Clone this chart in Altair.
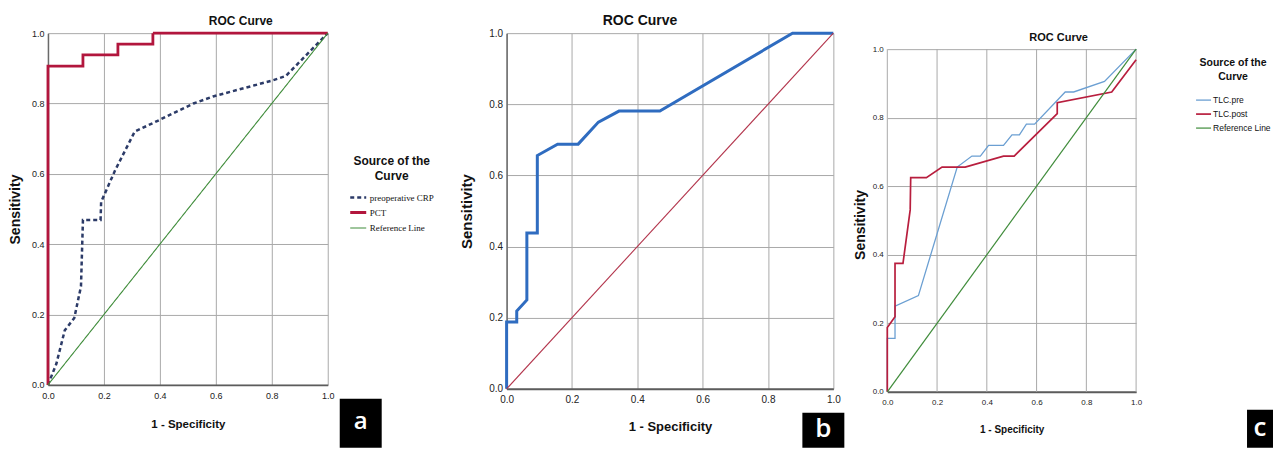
import altair as alt
import pandas as pd

# ---------------- data ----------------
TICKS = [0.0, 0.2, 0.4, 0.6, 0.8, 1.0]

# panel a
A_PCT_X = [0.0, 0.0, 0.125, 0.125, 0.25, 0.25, 0.375, 0.375, 1.0]
A_PCT_Y = [0.0, 0.906, 0.906, 0.938, 0.938, 0.969, 0.969, 1.0, 1.0]
A_CRP_X = [0.0, 0.03, 0.06, 0.094, 0.118, 0.125, 0.188, 0.19, 0.24, 0.31, 0.39, 0.52, 0.59, 0.8, 0.85, 1.0]
A_CRP_Y = [0.0, 0.06, 0.155, 0.19, 0.28, 0.469, 0.469, 0.52, 0.61, 0.72, 0.75, 0.80, 0.82, 0.865, 0.878, 1.0]
REF_X = [0.0, 1.0]
REF_Y = [0.0, 1.0]
A_SERIES = ["preoperative CRP", "PCT", "Reference Line"]

# panel b
B_X = [0.0, 0.0, 0.031, 0.031, 0.062, 0.062, 0.094, 0.094, 0.156, 0.219, 0.281, 0.344, 0.469, 0.875, 1.0]
B_Y = [0.0, 0.188, 0.188, 0.219, 0.25, 0.438, 0.438, 0.656, 0.688, 0.688, 0.75, 0.781, 0.781, 1.0, 1.0]
B_SERIES = ["Curve", "Reference Line"]

# panel c
C_PRE_X = [0.0, 0.0, 0.031, 0.031, 0.125, 0.281, 0.34, 0.374, 0.407, 0.467, 0.501, 0.531, 0.559, 0.592, 0.715, 0.749, 0.873, 1.0]
C_PRE_Y = [0.0, 0.156, 0.156, 0.25, 0.281, 0.656, 0.688, 0.688, 0.719, 0.719, 0.75, 0.75, 0.781, 0.781, 0.875, 0.875, 0.906, 1.0]
C_POST_X = [0.0, 0.0, 0.031, 0.031, 0.063, 0.092, 0.094, 0.157, 0.22, 0.313, 0.467, 0.51, 0.683, 0.683, 0.902, 1.0]
C_POST_Y = [0.0, 0.188, 0.219, 0.375, 0.375, 0.531, 0.625, 0.625, 0.656, 0.656, 0.688, 0.688, 0.812, 0.844, 0.875, 0.969]
C_SERIES = ["TLC.pre", "TLC.post", "Reference Line"]

# ---------------- styling ----------------
SANS = "Liberation Sans, Arial, sans-serif"
SERIF = "Liberation Serif, Times New Roman, serif"
GRID = "#a9a9a9"
GREEN = "#3f8c3a"
TOP_C = 16  # panel c plot starts lower than a and b


def frame(series):
    rows = []
    for name, xs, ys in series:
        for i, (x, y) in enumerate(zip(xs, ys)):
            rows.append({"series": name, "fpr": x, "tpr": y, "i": i})
    return pd.DataFrame(rows)


def xaxis(lsize, tsize, lpad, tpad, grid=True):
    return alt.Axis(values=TICKS, format=".1f", title="1 - Specificity", grid=grid,
                    gridColor=GRID, gridWidth=1, domainColor="#5c5c5c", domainWidth=2,
                    ticks=False, labelPadding=lpad, labelFlush=False, labelFont=SANS,
                    labelFontSize=lsize, labelColor="#222222", titleFont=SANS,
                    titleFontSize=tsize, titleFontWeight="bold", titleColor="#111111",
                    titlePadding=tpad)


def yaxis(lsize, tsize, lpad, tpad, domain=True, **kw):
    return alt.Axis(values=TICKS, format=".1f", title="Sensitivity", grid=True,
                    gridColor=GRID, gridWidth=1, domain=domain, domainColor="#6a6a6a",
                    domainWidth=1.5, ticks=False, labelPadding=lpad, labelFont=SANS,
                    labelFontSize=lsize, labelColor="#222222", titleFont=SANS,
                    titleFontSize=tsize, titleFontWeight="bold", titleColor="#111111",
                    titlePadding=tpad, **kw)


def scale01(top=1.0):
    return alt.Scale(domain=[0, top], nice=False, zero=False)


def badge(letter, x1, x2, y1, y2, size):
    d = pd.DataFrame({"label": [letter]})
    rect = alt.Chart(d).mark_rect(color="black").encode(
        x=alt.value(x1), x2=alt.value(x2), y=alt.value(y1), y2=alt.value(y2))
    txt = alt.Chart(d).mark_text(color="white", font="Open Sans", fontSize=size,
                                 fontWeight=600, baseline="middle", align="center").encode(
        x=alt.value((x1 + x2) / 2), y=alt.value((y1 + y2) / 2 - 1), text="label:N")
    return rect + txt


# ---------------- panel a ----------------
df_a = frame([("preoperative CRP", A_CRP_X, A_CRP_Y), ("PCT", A_PCT_X, A_PCT_Y),
              ("Reference Line", REF_X, REF_Y)])
PAD_A = 17
leg_a = alt.Legend(title=["Source of the", "Curve"], orient="none", legendX=301 - PAD_A,
                   legendY=123 - PAD_A, padding=PAD_A, titleFont=SANS, titleFontSize=12,
                   titleFontWeight="bold", titleColor="#111111", titleAlign="center",
                   titleAnchor="middle", titleLineHeight=15, titlePadding=5,
                   labelFont=SERIF, labelFontSize=9, labelColor="#111111", labelOffset=2,
                   symbolType="stroke", symbolSize=256, rowPadding=-2)
lines_a = alt.Chart(df_a).mark_line(clip=False).encode(
    x=alt.X("fpr:Q", scale=scale01(), axis=xaxis(9, 11.5, 7, 18)),
    y=alt.Y("tpr:Q", scale=scale01(), axis=yaxis(9, 14, 4, 9)),
    color=alt.Color("series:N", scale=alt.Scale(domain=A_SERIES,
                    range=["#2c3b68", "#b2163d", GREEN]), legend=leg_a),
    strokeDash=alt.StrokeDash("series:N", scale=alt.Scale(domain=A_SERIES,
                              range=[[4, 3], [1, 0], [1, 0]]), legend=leg_a),
    strokeWidth=alt.StrokeWidth("series:N", scale=alt.Scale(type="ordinal", domain=A_SERIES,
                                range=[2.5, 2.8, 1.1]), legend=leg_a),
    order="i:Q",
)
panel_a = (lines_a + badge("a", 292, 334, 366, 415, 24)).properties(
    width=280, height=352,
    title=alt.TitleParams(text="ROC Curve", font=SANS, fontSize=12, fontWeight="bold",
                          color="#111111", anchor="middle", dx=53, offset=7, dy=7))

# ---------------- panel b ----------------
df_b = frame([("Curve", B_X, B_Y), ("Reference Line", REF_X, REF_Y)])
lines_b = alt.Chart(df_b).mark_line(clip=False).encode(
    x=alt.X("fpr:Q", scale=scale01(), axis=xaxis(10, 13, 6, 16)),
    y=alt.Y("tpr:Q", scale=scale01(), axis=yaxis(10, 15, 4, 14)),
    color=alt.Color("series:N", scale=alt.Scale(domain=B_SERIES,
                    range=["#2f6cc0", "#b3354c"]), legend=None),
    strokeWidth=alt.StrokeWidth("series:N", scale=alt.Scale(type="ordinal", domain=B_SERIES,
                                range=[3, 1.1]), legend=None),
    order="i:Q",
)
panel_b = (lines_b + badge("b", 296, 338, 380, 415, 26)).properties(
    width=327, height=356,
    title=alt.TitleParams(text="ROC Curve", font=SANS, fontSize=14, fontWeight="bold",
                          color="#111111", anchor="middle", dx=-30, offset=6, dy=7))

# ---------------- panel c ----------------
H_C = 343
df_c = frame([("TLC.pre", C_PRE_X, C_PRE_Y), ("TLC.post", C_POST_X, C_POST_Y),
              ("Reference Line", REF_X, REF_Y)])
leg_c = alt.Legend(title=["Source of the", "Curve"], orient="none", legendX=308,
                   legendY=25, titleFont=SANS, titleFontSize=10.5, titleFontWeight="bold",
                   titleColor="#111111", titleAlign="center", titleAnchor="middle",
                   titleLineHeight=14, titlePadding=9, labelFont=SANS, labelFontSize=8.5,
                   labelColor="#111111", labelOffset=1, symbolType="stroke",
                   symbolSize=225, rowPadding=1)
c_top = 1.0 + TOP_C / H_C
xgrid_c = alt.Chart(pd.DataFrame({"fpr": TICKS})).mark_rule(color=GRID, strokeWidth=1).encode(
    x=alt.X("fpr:Q", scale=scale01(), title="1 - Specificity"),
    y=alt.datum(0.0), y2=alt.datum(1.0))
lines_c = alt.Chart(df_c).mark_line(clip=False).encode(
    x=alt.X("fpr:Q", scale=scale01(), axis=xaxis(8, 10, 7, 18, grid=False)),
    y=alt.Y("tpr:Q", scale=scale01(c_top),
            axis=yaxis(8, 14, 4, 5, domain=False, titleY=(H_C + TOP_C) / 2 + TOP_C / 2 + 4)),
    color=alt.Color("series:N", scale=alt.Scale(domain=C_SERIES,
                    range=["#6b9fd2", "#b81e3e", GREEN]), legend=leg_c),
    strokeWidth=alt.StrokeWidth("series:N", scale=alt.Scale(type="ordinal", domain=C_SERIES,
                                range=[1.3, 1.7, 1.2]), legend=leg_c),
    order="i:Q",
)
panel_c = (xgrid_c + lines_c + badge("c", 360, 386, 377, 415, 26)).properties(
    width=249, height=H_C + TOP_C,
    title=alt.TitleParams(text="ROC Curve", font=SANS, fontSize=11, fontWeight="bold",
                          color="#111111", anchor="middle", dx=47, offset=0, dy=10))

chart = alt.concat(panel_a, panel_b, panel_c, columns=3, spacing=8, align="none",
                   bounds="full").resolve_scale(
    color="independent", strokeDash="independent", strokeWidth="independent"
).resolve_legend(
    color="independent", strokeDash="independent", strokeWidth="independent"
).properties(
    padding={"left": 0, "top": 6, "right": 0, "bottom": 0},
    background="white",
).configure_view(stroke=None)

chart.save("out.html", embed_options={"renderer": "svg", "actions": False})
